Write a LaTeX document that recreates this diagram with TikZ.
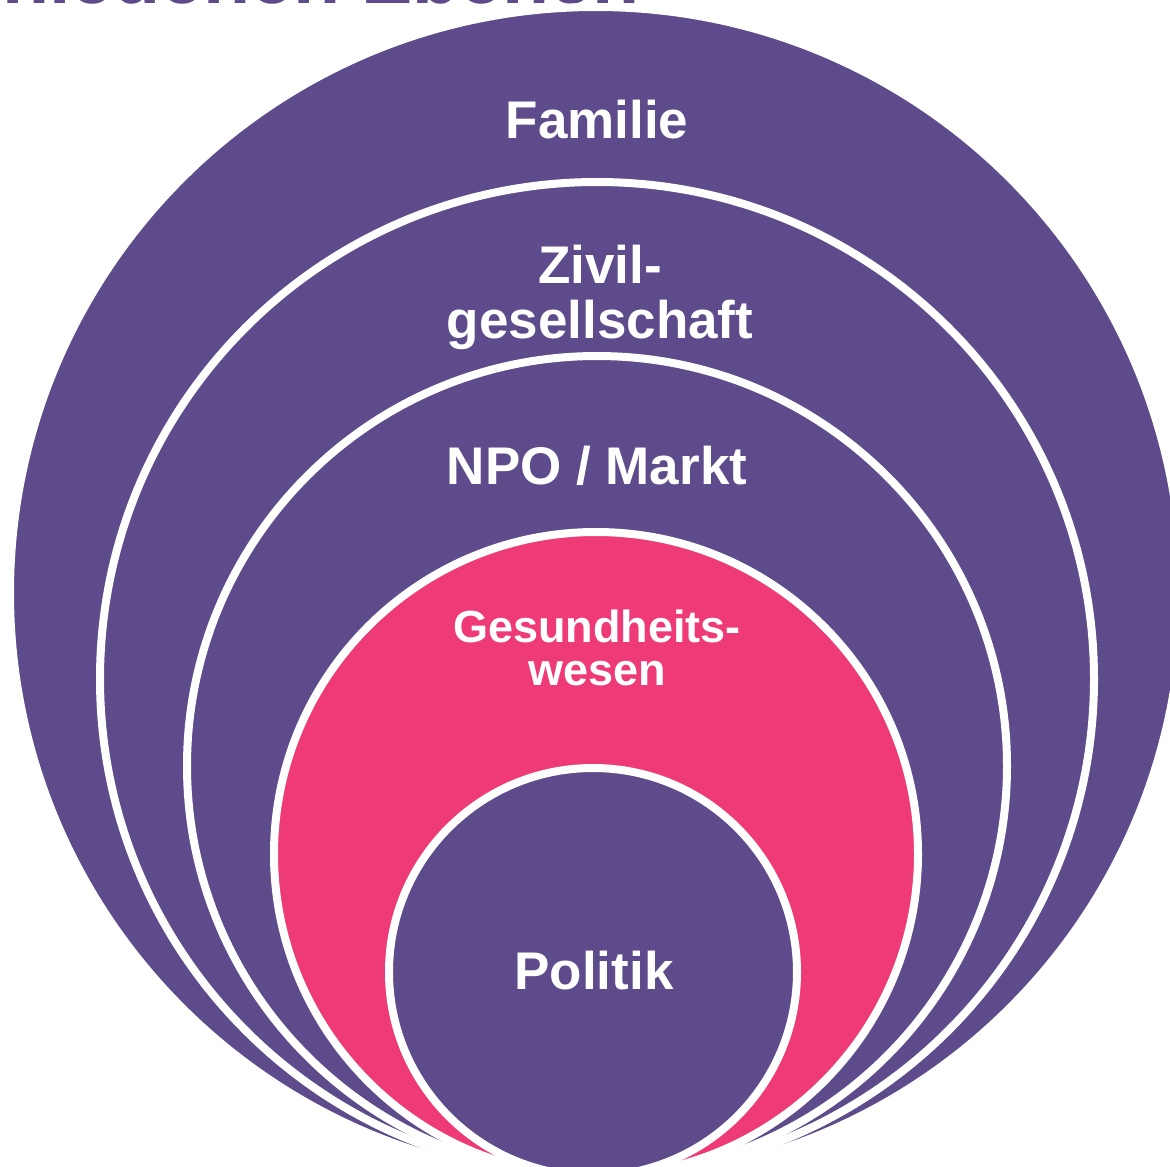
\documentclass[tikz,border=0pt]{standalone}
\usepackage{fontspec}
\setmainfont{Liberation Sans}
\definecolor{lila}{RGB}{94,75,139}
\definecolor{rosa}{RGB}{239,58,120}
\tikzset{
  ring/.style={draw=white, line width=8pt, fill=#1},
  ebene/.style={text=white, anchor=base, align=center, inner sep=0pt,
    font=\bfseries\fontsize{53}{55}\selectfont},
  ebeneklein/.style={ebene, font=\bfseries\fontsize{45}{43}\selectfont}
}
\begin{document}
\begin{tikzpicture}[x=1pt,y=-1pt]
  \useasboundingbox (0,0) rectangle (1170,1167);
  % Titel, nur der untere Rand ist sichtbar
  \node[text=lila, anchor=base east, inner sep=0pt,
    font=\bfseries\fontsize{77}{80}\selectfont] (titel) at (640,3) {verschiedenen Ebenen};
  % Ringe von aussen nach innen
  \draw[ring=lila] (596,593) circle (586pt);
  \draw[ring=lila] (597,679) circle (497pt);
  \draw[ring=lila] (597,766) circle (410pt);
  \draw[ring=rosa] (596,854) circle (322pt);
  \draw[ring=lila] (593,972) circle (204pt);
  % Beschriftungen (base = letzte Zeile)
  \node[ebene] (familie) at (597,138) {Familie};
  \node[ebene] (zivil) at (600,338) {Zivil-\\gesellschaft};
  \node[ebene] (npo) at (597,484) {NPO / Markt};
  \node[ebeneklein] (gesund) at (597,685) {Gesundheits-\\wesen};
  \node[ebene] (politik) at (594,989) {Politik};
\end{tikzpicture}
\end{document}
